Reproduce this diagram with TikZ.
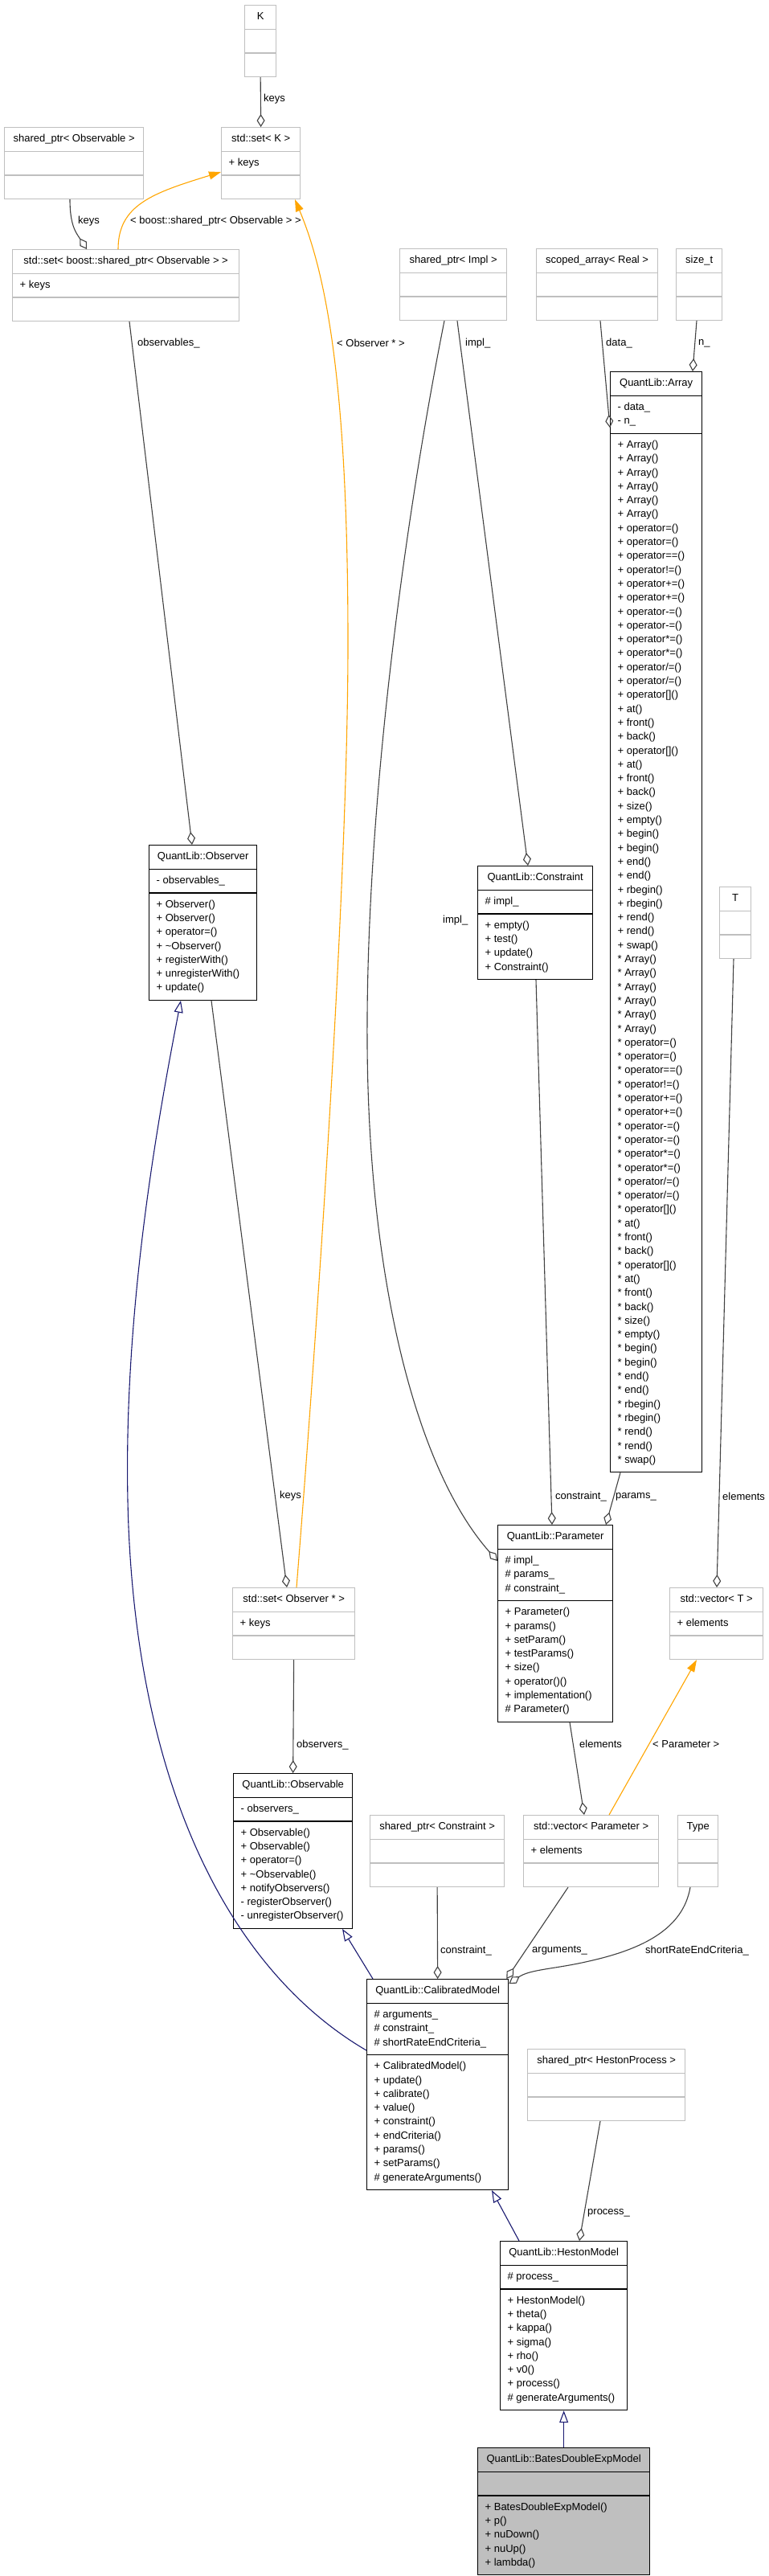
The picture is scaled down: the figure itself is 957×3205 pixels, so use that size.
\documentclass[tikz,border=0pt]{standalone}
\usepackage{fontspec}
\setmainfont{Liberation Sans}
\usepackage{xcolor}
\usetikzlibrary{arrows.meta,calc,shapes.multipart}
\definecolor{boxgray}{HTML}{BFBFBF}
\definecolor{edgegray}{HTML}{404040}
\definecolor{tmplorange}{HTML}{FFA500}
\definecolor{inhblue}{HTML}{191970}
\newcommand{\arrayops}[1]{\strut#1 Array()\\\strut#1 Array()\\\strut#1 Array()\\\strut#1 Array()\\\strut#1 Array()\\\strut#1 Array()\\%
\strut#1 operator=()\\\strut#1 operator=()\\\strut#1 operator==()\\\strut#1 operator!=()\\\strut#1 operator+=()\\\strut#1 operator+=()\\%
\strut#1 operator-=()\\\strut#1 operator-=()\\\strut#1 operator*=()\\\strut#1 operator*=()\\\strut#1 operator/=()\\\strut#1 operator/=()\\%
\strut#1 operator[]()\\\strut#1 at()\\\strut#1 front()\\\strut#1 back()\\\strut#1 operator[]()\\\strut#1 at()\\\strut#1 front()\\\strut#1 back()\\%
\strut#1 size()\\\strut#1 empty()\\\strut#1 begin()\\\strut#1 begin()\\\strut#1 end()\\\strut#1 end()\\\strut#1 rbegin()\\\strut#1 rbegin()\\%
\strut#1 rend()\\\strut#1 rend()\\\strut#1 swap()}

\begin{document}
\begin{tikzpicture}[x=1pt,y=-1pt,font=\fontsize{13}{17.3}\selectfont,
  cls/.style={rectangle split,rectangle split parts=3,anchor=north west,line width=1.3pt,inner xsep=9pt,inner ysep=5.5pt,align=left,rectangle split part align={center,left,left}},
  gcls/.style={cls,draw=boxgray},
  bcls/.style={cls,draw=black},
  agg/.style={edgegray,line width=1.1pt,-{Diamond[open,length=16pt,width=10pt]}},
  tmpl/.style={tmplorange,line width=1.1pt,-{Triangle[length=15pt,width=10pt]}},
  inh/.style={inhblue,line width=1.1pt,-{Triangle[open,length=15pt,width=11pt]}},
  lbl/.style={anchor=west,inner sep=0pt}]
\useasboundingbox (0,0) rectangle (957,3205);

\node[gcls,minimum width=39pt] (K) at (304,6) {\strut K\nodepart{two}\strut\nodepart{three}\strut};
\node[gcls,minimum width=98pt] (setK) at (275,158) {\strut std::set< K >\nodepart{two}\strut+ keys\nodepart{three}\strut};
\node[gcls,minimum width=173pt] (spObs) at (5,158) {\strut shared\_ptr< Observable >\nodepart{two}\strut\nodepart{three}\strut};
\node[gcls,minimum width=282pt] (setBoost) at (15,310) {\strut std::set< boost::shared\_ptr< Observable > >\nodepart{two}\strut+ keys\nodepart{three}\strut};
\node[gcls,minimum width=133pt] (spImpl) at (497,309) {\strut shared\_ptr< Impl >\nodepart{two}\strut\nodepart{three}\strut};
\node[gcls,minimum width=151pt] (scoped) at (667,309) {\strut scoped\_array< Real >\nodepart{two}\strut\nodepart{three}\strut};
\node[gcls,minimum width=57pt] (sizeT) at (841,309) {\strut size\_t\nodepart{two}\strut\nodepart{three}\strut};
\node[bcls,minimum width=114pt] (array) at (759,462) {\strut QuantLib::Array\nodepart{two}\strut- data\_\\\strut- n\_\nodepart{three}\arrayops{+}\\\arrayops{*}};
\node[bcls,minimum width=134pt] (observer) at (185,1051) {\strut QuantLib::Observer\nodepart{two}\strut- observables\_\nodepart{three}\strut+ Observer()\\\strut+ Observer()\\\strut+ operator=()\\\strut+ \textasciitilde Observer()\\\strut+ registerWith()\\\strut+ unregisterWith()\\\strut+ update()};
\node[bcls,minimum width=143pt] (constraint) at (594,1077) {\strut QuantLib::Constraint\nodepart{two}\strut\# impl\_\nodepart{three}\strut+ empty()\\\strut+ test()\\\strut+ update()\\\strut+ Constraint()};
\node[gcls,minimum width=39pt] (T) at (895,1103) {\strut T\nodepart{two}\strut\nodepart{three}\strut};
\node[bcls,minimum width=143pt] (parameter) at (619,1897) {\strut QuantLib::Parameter\nodepart{two}\strut\# impl\_\\\strut\# params\_\\\strut\# constraint\_\nodepart{three}\strut+ Parameter()\\\strut+ params()\\\strut+ setParam()\\\strut+ testParams()\\\strut+ size()\\\strut+ operator()()\\\strut+ implementation()\\\strut\# Parameter()};
\node[gcls,minimum width=152pt] (setObs) at (289,1975) {\strut std::set< Observer * >\nodepart{two}\strut+ keys\nodepart{three}\strut};
\node[gcls,minimum width=116pt] (vectorT) at (833,1975) {\strut std::vector< T >\nodepart{two}\strut+ elements\nodepart{three}\strut};
\node[bcls,minimum width=148pt] (observable) at (290,2206) {\strut QuantLib::Observable\nodepart{two}\strut- observers\_\nodepart{three}\strut+ Observable()\\\strut+ Observable()\\\strut+ operator=()\\\strut+ \textasciitilde Observable()\\\strut+ notifyObservers()\\\strut- registerObserver()\\\strut- unregisterObserver()};
\node[gcls,minimum width=167pt] (spConstraint) at (460,2258) {\strut shared\_ptr< Constraint >\nodepart{two}\strut\nodepart{three}\strut};
\node[gcls,minimum width=168pt] (vectorParam) at (651,2258) {\strut std::vector< Parameter >\nodepart{two}\strut+ elements\nodepart{three}\strut};
\node[gcls,minimum width=50pt] (type) at (843,2258) {\strut Type\nodepart{two}\strut\nodepart{three}\strut};
\node[bcls,minimum width=176pt] (calib) at (456,2462) {\strut QuantLib::CalibratedModel\nodepart{two}\strut\# arguments\_\\\strut\# constraint\_\\\strut\# shortRateEndCriteria\_\nodepart{three}\strut+ CalibratedModel()\\\strut+ update()\\\strut+ calibrate()\\\strut+ value()\\\strut+ constraint()\\\strut+ endCriteria()\\\strut+ params()\\\strut+ setParams()\\\strut\# generateArguments()};
\node[gcls,minimum width=196pt] (spHeston) at (656,2549) {\strut shared\_ptr< HestonProcess >\nodepart{two}\strut\nodepart{three}\strut};
\node[bcls,minimum width=158pt] (heston) at (622,2788) {\strut QuantLib::HestonModel\nodepart{two}\strut\# process\_\nodepart{three}\strut+ HestonModel()\\\strut+ theta()\\\strut+ kappa()\\\strut+ sigma()\\\strut+ rho()\\\strut+ v0()\\\strut+ process()\\\strut\# generateArguments()};
\node[bcls,fill=boxgray,minimum width=214pt] (bates) at (594,3045) {\strut QuantLib::BatesDoubleExpModel\nodepart{two}\strut\nodepart{three}\strut+ BatesDoubleExpModel()\\\strut+ p()\\\strut+ nuDown()\\\strut+ nuUp()\\\strut+ lambda()};

\draw[agg] (K.south) -- (setK.north);
\draw[agg] ($(spObs.south west)+(82,0)$) .. controls ($(spObs.south west)+(82,33)$) and ($(setBoost.north west)+(80,-20)$) .. ($(setBoost.north west)+(93,0)$);
\draw[tmpl] ($(setBoost.north west)+(132,0)$) .. controls ($(setBoost.north west)+(132,-55)$) and ($(setK.north west)+(-85,82)$) .. ($(setK.north west)+(0,56)$);
\draw[tmpl] ($(setObs.north west)+(80,0)$) .. controls (395,1650) and (433,1100) .. (433,800) .. controls (433,500) and (410,350) .. ($(setK.south west)+(92,0)$);
\draw[agg] ($(setBoost.south west)+(146,0)$) -- ($(observer.north west)+(54,0)$);
\draw[agg] ($(spImpl.south west)+(72,0)$) -- ($(constraint.north west)+(63,0)$);
\draw[agg] ($(spImpl.south west)+(56,0)$) .. controls (505,640) and (455,1000) .. (457,1300) .. controls (459,1600) and (520,1830) .. ($(parameter.north west)+(0,45)$);
\draw[agg] ($(scoped.south west)+(80,0)$) -- ($(array.north west)+(0,70)$);
\draw[agg] ($(sizeT.south west)+(26,0)$) -- ($(array.north west)+(103,0)$);
\draw[agg] ($(constraint.south west)+(73,0)$) -- ($(parameter.north west)+(68,0)$);
\draw[agg] ($(array.south west)+(13,0)$) -- ($(parameter.north west)+(135,0)$);
\draw[agg] ($(T.south west)+(18,0)$) -- ($(vectorT.north west)+(59,0)$);
\draw[agg] ($(parameter.south west)+(90,0)$) -- ($(vectorParam.north west)+(76,0)$);
\draw[tmpl] ($(vectorParam.north west)+(107,0)$) -- ($(vectorT.south west)+(34,0)$);
\draw[agg] ($(observer.south west)+(78,0)$) -- ($(setObs.north west)+(68,0)$);
\draw[agg] (setObs.south) -- (observable.north);
\draw[inh] ($(calib.north west)+(0,89)$) .. controls (300,2460) and (175,2250) .. (160,1900) .. controls (150,1650) and (195,1400) .. ($(observer.south west)+(40,0)$);
\draw[inh] ($(calib.north west)+(8,0)$) -- ($(observable.south west)+(136,0)$);
\draw[agg] (spConstraint.south) -- (calib.north);
\draw[agg] ($(vectorParam.south west)+(56,0)$) -- ($(calib.north east)+(-3,0)$);
\draw[agg] ($(type.south west)+(16,0)$) .. controls (850,2400) and (800,2425) .. (733,2440) .. controls (690,2450) and (660,2450) .. ($(calib.north east)+(0,6)$);
\draw[agg] ($(spHeston.south west)+(91,0)$) -- ($(heston.north west)+(99,0)$);
\draw[inh] ($(heston.north west)+(24,0)$) -- ($(calib.south west)+(156,0)$);
\draw[inh] (bates.north) -- (heston.south);

\node[lbl] (lKeysK) at (328,123) {keys};
\node[lbl] (lKeysObs) at (97,275) {keys};
\node[lbl] (lBoost) at (162,275) {< boost::shared\_ptr< Observable > >};
\node[lbl] (lObservables) at (171,427) {observables\_};
\node[lbl] (lObsPtr) at (419,427) {< Observer * >};
\node[lbl] (lImplC) at (579,427) {impl\_};
\node[lbl] (lData) at (754,427) {data\_};
\node[lbl] (lN) at (869,427) {n\_};
\node[lbl] (lImplP) at (551,1145) {impl\_};
\node[lbl] (lKeysSet) at (348,1861) {keys};
\node[lbl] (lConstrP) at (691,1862) {constraint\_};
\node[lbl] (lParams) at (766,1862) {params\_};
\node[lbl] (lElemT) at (899,1862) {elements};
\node[lbl] (lElemP) at (721,2170) {elements};
\node[lbl] (lParamT) at (812,2170) {< Parameter >};
\node[lbl] (lObservers) at (369,2171) {observers\_};
\node[lbl] (lConstrC) at (548,2427) {constraint\_};
\node[lbl] (lArgs) at (662,2427) {arguments\_};
\node[lbl] (lShort) at (803,2427) {shortRateEndCriteria\_};
\node[lbl] (lProcess) at (731,2753) {process\_};
\end{tikzpicture}
\end{document}
